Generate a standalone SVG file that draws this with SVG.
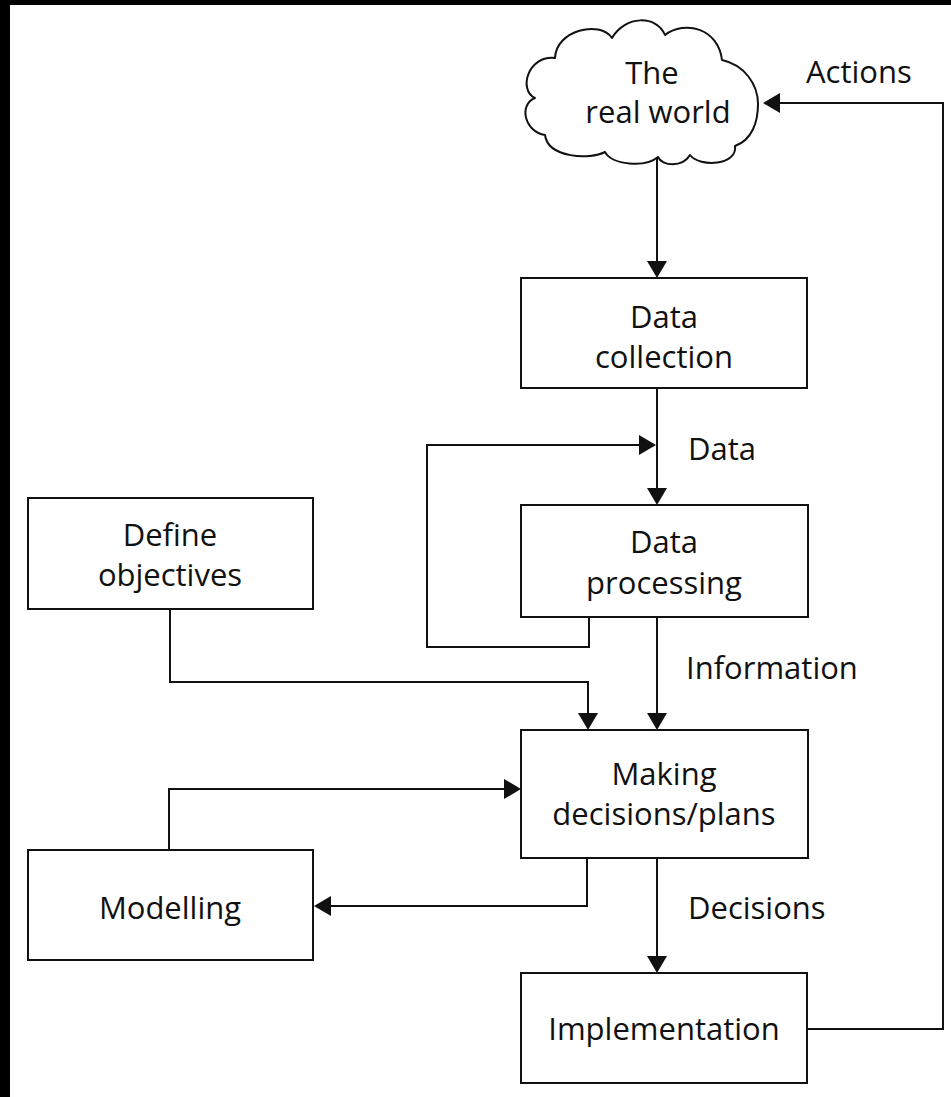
<svg xmlns="http://www.w3.org/2000/svg" width="951" height="1097" viewBox="0 0 951 1097">
  <style>
    .box { fill: #fff; stroke: #111; stroke-width: 2; }
    .cloud { fill: #fff; stroke: #111; stroke-width: 2; stroke-linejoin: round; }
    .wire { fill: none; stroke: #111; stroke-width: 2; }
    .t { font-family: "Open Sans", "Noto Sans", sans-serif; font-size: 31px; fill: #111; }
    .c { text-anchor: middle; }
  </style>
  <defs>
    <marker id="arrow" markerUnits="userSpaceOnUse" markerWidth="18" markerHeight="22" refX="15" refY="10" orient="auto" viewBox="0 0 18 20">
      <path d="M0,0 L17,10 L0,20 Z" fill="#111"/>
    </marker>
  </defs>

  <!-- page background with dark frame strips on top and left -->
  <rect x="0" y="0" width="951" height="1097" fill="#000"/>
  <rect x="10" y="5" width="941" height="1092" fill="#fff"/>

  <g id="connectors">
    <path class="wire" d="M657,157 V276" marker-end="url(#arrow)"/>
    <path class="wire" d="M657,388 V503" marker-end="url(#arrow)"/>
    <path class="wire" d="M589,617 V647 H427 V445 H654" marker-end="url(#arrow)"/>
    <path class="wire" d="M657,617 V728" marker-end="url(#arrow)"/>
    <path class="wire" d="M170,609 V682 H588 V728" marker-end="url(#arrow)"/>
    <path class="wire" d="M169,850 V789 H519" marker-end="url(#arrow)"/>
    <path class="wire" d="M587,858 V906 H316" marker-end="url(#arrow)"/>
    <path class="wire" d="M657,858 V971" marker-end="url(#arrow)"/>
    <path class="wire" d="M807,1029 H943 V103 H765" marker-end="url(#arrow)"/>
  </g>

  <g id="labels">
    <text class="t" x="688" y="460">Data</text>
    <text class="t" x="686" y="679">Information</text>
    <text class="t" x="688" y="919">Decisions</text>
    <text class="t" x="806" y="83">Actions</text>
  </g>

  <g id="real-world">
    <path class="cloud" d="M555,58 C556,30 600,20 612,38 C625,15 657,15 665,35 C685,20 718,28 722,60 C745,65 758,85 758,104 C758,122 752,140 735,146 C738,165 700,168 690,155 C682,168 662,166 658,157 C645,168 612,165 605,152 C590,160 548,158 545,135 C525,132 518,105 535,98 C518,90 528,55 555,58 Z"/>
    <text class="t c" x="652" y="84">The</text>
    <text class="t c" x="658" y="123">real world</text>
  </g>

  <g id="data-collection">
    <rect class="box" x="521" y="278" width="286" height="110"/>
    <text class="t c" x="664" y="328">Data</text>
    <text class="t c" x="664" y="368">collection</text>
  </g>

  <g id="data-processing">
    <rect class="box" x="521" y="505" width="287" height="112"/>
    <text class="t c" x="664" y="553">Data</text>
    <text class="t c" x="664" y="594">processing</text>
  </g>

  <g id="define-objectives">
    <rect class="box" x="28" y="498" width="285" height="111"/>
    <text class="t c" x="170" y="546">Define</text>
    <text class="t c" x="170" y="586">objectives</text>
  </g>

  <g id="making-decisions">
    <rect class="box" x="521" y="730" width="287" height="128"/>
    <text class="t c" x="664" y="785">Making</text>
    <text class="t c" x="664" y="825">decisions/plans</text>
  </g>

  <g id="modelling">
    <rect class="box" x="28" y="850" width="285" height="110"/>
    <text class="t c" x="170" y="919">Modelling</text>
  </g>

  <g id="implementation">
    <rect class="box" x="521" y="973" width="286" height="110"/>
    <text class="t c" x="664" y="1040">Implementation</text>
  </g>
</svg>
